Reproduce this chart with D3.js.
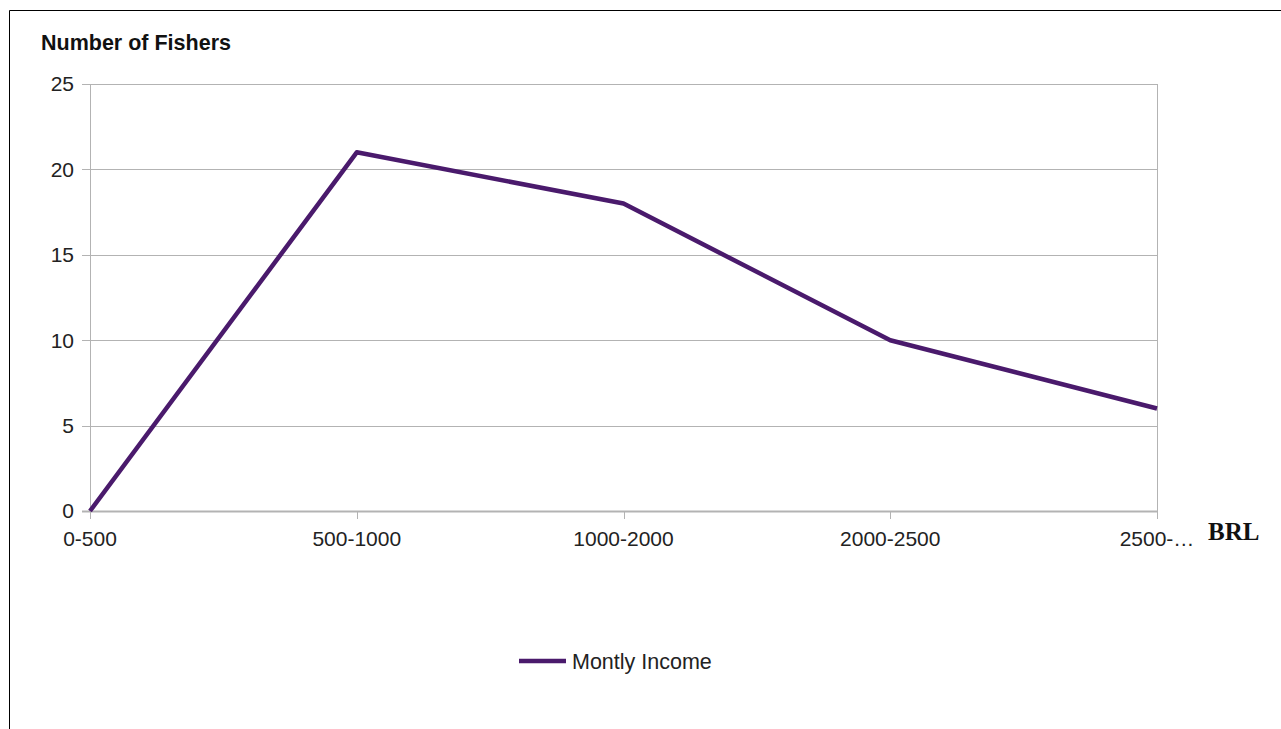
<!DOCTYPE html>
<html>
<head>
<meta charset="utf-8">
<script src="https://cdn.jsdelivr.net/npm/d3@7"></script>
<style>
  html, body { margin: 0; padding: 0; background: #fff; }
  svg { display: block; }
</style>
</head>
<body>
<svg id="chart" width="1281" height="729"></svg>
<script>
// Monthly income brackets (BRL) and number of fishers in each
const categories = ["0-500", "500-1000", "1000-2000", "2000-2500", "2500-…"];
const fishers = [0, 21, 18, 10, 6];
const yTicks = [0, 5, 10, 15, 20, 25];
const seriesName = "Montly Income";
const yTitle = "Number of Fishers";
const xUnit = "BRL";

const svg = d3.select("#chart");
const lineColor = "#4a1a6c";
const gridColor = "#b3b3b3";
const font = "'Liberation Sans', Arial, sans-serif";
const fs = 21;

// outer frame (top and left edges)
svg.append("line").attr("x1", 9.5).attr("y1", 10.5).attr("x2", 1281).attr("y2", 10.5)
  .attr("stroke", "#000").attr("stroke-width", 1);
svg.append("line").attr("x1", 9.5).attr("y1", 10.5).attr("x2", 9.5).attr("y2", 729)
  .attr("stroke", "#000").attr("stroke-width", 1);

const x = d3.scalePoint().domain(categories).range([90, 1157]);
const y = d3.scaleLinear().domain([0, 25]).range([511, 84]);

const g = svg.append("g");

// horizontal gridlines with short ticks to the left
g.selectAll("line.grid").data(yTicks).join("line")
  .attr("class", "grid")
  .attr("x1", 82).attr("x2", 1157)
  .attr("y1", d => Math.round(y(d)) + 0.5).attr("y2", d => Math.round(y(d)) + 0.5)
  .attr("stroke", gridColor).attr("stroke-width", 1);

// left and right plot edges
[categories[0], categories[categories.length - 1]].forEach(c => {
  g.append("line")
    .attr("x1", Math.round(x(c)) + 0.5).attr("x2", Math.round(x(c)) + 0.5)
    .attr("y1", y(25)).attr("y2", y(0))
    .attr("stroke", gridColor).attr("stroke-width", 1);
});

// category ticks below the axis
g.selectAll("line.xtick").data(categories).join("line")
  .attr("class", "xtick")
  .attr("x1", d => Math.round(x(d)) + 0.5).attr("x2", d => Math.round(x(d)) + 0.5)
  .attr("y1", y(0)).attr("y2", y(0) + 8)
  .attr("stroke", gridColor).attr("stroke-width", 1);

// baseline a bit heavier
g.append("line").attr("x1", 82).attr("x2", 1157)
  .attr("y1", Math.round(y(0)) + 0.5).attr("y2", Math.round(y(0)) + 0.5)
  .attr("stroke", gridColor).attr("stroke-width", 2);

// y tick labels
g.selectAll("text.ylab").data(yTicks).join("text")
  .attr("class", "ylab")
  .attr("x", 74).attr("y", d => y(d))
  .attr("dy", "0.35em")
  .attr("text-anchor", "end")
  .attr("font-family", font).attr("font-size", fs).attr("fill", "#222")
  .text(d => d);

// x tick labels
g.selectAll("text.xlab").data(categories).join("text")
  .attr("class", "xlab")
  .attr("x", d => x(d)).attr("y", 546)
  .attr("text-anchor", "middle")
  .attr("font-family", font).attr("font-size", fs).attr("fill", "#222")
  .text(d => d);

// axis titles
svg.append("text").attr("x", 41).attr("y", 50)
  .attr("font-family", font).attr("font-size", 21.5).attr("font-weight", "bold").attr("fill", "#111")
  .text(yTitle);
svg.append("text").attr("x", 1208).attr("y", 540)
  .attr("font-family", "'Liberation Serif', 'Times New Roman', serif")
  .attr("font-size", 25).attr("font-weight", "bold").attr("fill", "#111")
  .text(xUnit);

// data line
const line = d3.line().x((d, i) => x(categories[i])).y(d => y(d));
g.append("path").datum(fishers)
  .attr("d", line)
  .attr("fill", "none")
  .attr("stroke", lineColor).attr("stroke-width", 4.5)
  .attr("stroke-linejoin", "round");

// legend
const lg = svg.append("g").attr("transform", "translate(519,661)");
lg.append("line").attr("x1", 0).attr("x2", 47).attr("y1", 0).attr("y2", 0)
  .attr("stroke", lineColor).attr("stroke-width", 4.5);
lg.append("text").attr("x", 53).attr("y", 0).attr("dy", "0.35em")
  .attr("font-family", font).attr("font-size", 21.5).attr("fill", "#222")
  .text(seriesName);
</script>
</body>
</html>
